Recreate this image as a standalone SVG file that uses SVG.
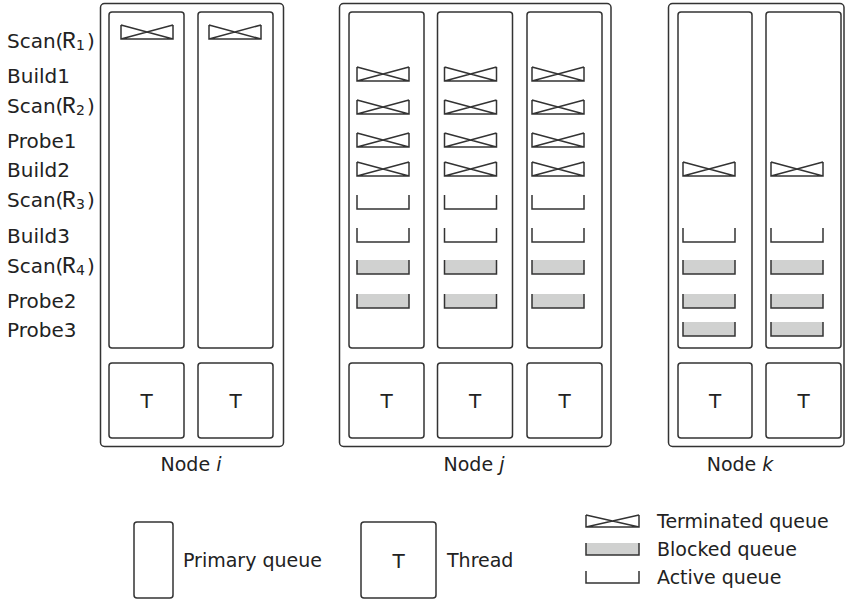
<svg xmlns="http://www.w3.org/2000/svg" xmlns:xlink="http://www.w3.org/1999/xlink" width="846" height="601" viewBox="0 0 846 601">
  <style>
    .box { fill: #ffffff; stroke: #333333; stroke-width: 1.5; }
    .item { fill: none; stroke: #333333; stroke-width: 1.5; }
    .fillg { fill: #d0d1d0; stroke: none; }
    .lbl { font-family: "DejaVu Sans", "Liberation Sans", sans-serif; font-size: 20px; fill: #222222; }
    .mono { font-family: "Liberation Mono", "DejaVu Sans Mono", monospace; }
    .cap { font-family: "DejaVu Sans", "Liberation Sans", sans-serif; font-size: 19px; fill: #222222; }
    .t { font-family: "DejaVu Sans", "Liberation Sans", sans-serif; font-size: 20px; fill: #222222; text-anchor: middle; }
  </style>
  <defs>
    <!-- queue state glyphs, 52 x 14 -->
    <g id="terminated">
      <path class="item" d="M0,0 V14 H52 V0 M0,0 L52,14 M0,14 L52,0"/>
    </g>
    <g id="active">
      <path class="item" d="M0,0 V14 H52 V0"/>
    </g>
    <g id="blocked">
      <rect class="fillg" x="0" y="0" width="52" height="14"/>
      <path class="item" d="M0,0 V14 H52 V0"/>
    </g>
  </defs>

  <!-- operator labels -->
  <g id="row-labels" class="lbl">
    <text y="48"><tspan x="7">Scan(</tspan><tspan x="62" class="mono" font-size="23">R</tspan><tspan x="76" y="50" font-size="14">1</tspan><tspan x="87" y="48">)</tspan></text>
    <text x="7" y="83">Build1</text>
    <text y="113"><tspan x="7">Scan(</tspan><tspan x="62" class="mono" font-size="23">R</tspan><tspan x="76" y="115" font-size="14">2</tspan><tspan x="87" y="113">)</tspan></text>
    <text x="7" y="148">Probe1</text>
    <text x="7" y="177">Build2</text>
    <text y="207"><tspan x="7">Scan(</tspan><tspan x="62" class="mono" font-size="23">R</tspan><tspan x="76" y="209" font-size="14">3</tspan><tspan x="87" y="207">)</tspan></text>
    <text x="7" y="243">Build3</text>
    <text y="273"><tspan x="7">Scan(</tspan><tspan x="62" class="mono" font-size="23">R</tspan><tspan x="76" y="275" font-size="14">4</tspan><tspan x="87" y="273">)</tspan></text>
    <text x="7" y="308">Probe2</text>
    <text x="7" y="337">Probe3</text>
  </g>

  <!-- Node i -->
  <g id="node-i">
    <rect class="box" x="100.5" y="3.5" width="183" height="443" rx="4"/>
    <rect class="box" x="109" y="12" width="75" height="336" rx="3"/>
    <rect class="box" x="198" y="12" width="75" height="336" rx="3"/>
    <use xlink:href="#terminated" x="121" y="25"/>
    <use xlink:href="#terminated" x="209" y="25"/>
    <rect class="box" x="109" y="363" width="75" height="75" rx="3"/>
    <rect class="box" x="198" y="363" width="75" height="75" rx="3"/>
    <text class="t" x="146.5" y="408">T</text>
    <text class="t" x="235.5" y="408">T</text>
    <text class="cap" x="191" y="471" text-anchor="middle">Node <tspan font-style="italic">i</tspan></text>
  </g>

  <!-- Node j -->
  <g id="node-j">
    <rect class="box" x="339.5" y="3.5" width="271.5" height="443" rx="4"/>
    <rect class="box" x="349" y="12" width="75" height="336" rx="3"/>
    <rect class="box" x="437.5" y="12" width="75" height="336" rx="3"/>
    <rect class="box" x="527" y="12" width="75" height="336" rx="3"/>
    <g id="node-j-q1">
      <use xlink:href="#terminated" x="357" y="67"/>
      <use xlink:href="#terminated" x="357" y="100"/>
      <use xlink:href="#terminated" x="357" y="133"/>
      <use xlink:href="#terminated" x="357" y="162"/>
      <use xlink:href="#active" x="357" y="195"/>
      <use xlink:href="#active" x="357" y="228"/>
      <use xlink:href="#blocked" x="357" y="260"/>
      <use xlink:href="#blocked" x="357" y="294"/>
    </g>
    <use xlink:href="#node-j-q1" x="87.5"/>
    <use xlink:href="#node-j-q1" x="175"/>
    <rect class="box" x="349" y="363" width="75" height="75" rx="3"/>
    <rect class="box" x="437.5" y="363" width="75" height="75" rx="3"/>
    <rect class="box" x="527" y="363" width="75" height="75" rx="3"/>
    <text class="t" x="386.5" y="408">T</text>
    <text class="t" x="475" y="408">T</text>
    <text class="t" x="564.5" y="408">T</text>
    <text class="cap" x="474" y="471" text-anchor="middle">Node <tspan font-style="italic">j</tspan></text>
  </g>

  <!-- Node k -->
  <g id="node-k">
    <rect class="box" x="668.5" y="3.5" width="175.5" height="443" rx="4"/>
    <rect class="box" x="678" y="12" width="74" height="336" rx="3"/>
    <rect class="box" x="766" y="12" width="75" height="336" rx="3"/>
    <g id="node-k-q1">
      <use xlink:href="#terminated" x="683" y="162"/>
      <use xlink:href="#active" x="683" y="228"/>
      <use xlink:href="#blocked" x="683" y="260"/>
      <use xlink:href="#blocked" x="683" y="294"/>
      <use xlink:href="#blocked" x="683" y="322"/>
    </g>
    <use xlink:href="#node-k-q1" x="88"/>
    <rect class="box" x="678" y="363" width="74" height="75" rx="3"/>
    <rect class="box" x="766" y="363" width="75" height="75" rx="3"/>
    <text class="t" x="715" y="408">T</text>
    <text class="t" x="803.5" y="408">T</text>
    <text class="cap" x="740" y="471" text-anchor="middle">Node <tspan font-style="italic">k</tspan></text>
  </g>

  <!-- Legend -->
  <g id="legend">
    <rect class="box" x="134" y="522" width="39" height="76" rx="3"/>
    <text class="cap" x="183" y="567">Primary queue</text>
    <rect class="box" x="361" y="522" width="75" height="76" rx="3"/>
    <text class="t" x="398.5" y="568">T</text>
    <text class="cap" x="447" y="567">Thread</text>

    <path class="item" d="M586,515 V527 H639 V515 M586,515 L639,527 M586,527 L639,515"/>
    <text class="cap" x="657" y="528">Terminated queue</text>
    <rect class="fillg" x="586" y="543" width="53" height="12"/>
    <path class="item" d="M586,543 V555 H639 V543"/>
    <text class="cap" x="657" y="556">Blocked queue</text>
    <path class="item" d="M586,571 V583 H639 V571"/>
    <text class="cap" x="657" y="584">Active queue</text>
  </g>
</svg>
